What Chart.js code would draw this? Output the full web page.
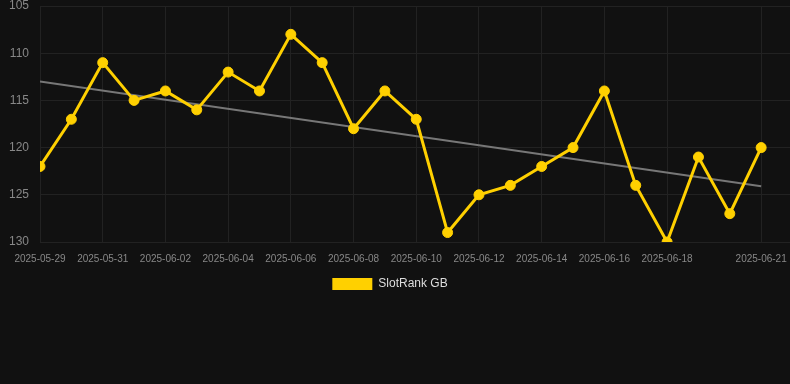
<!DOCTYPE html>
<html>
<head>
<meta charset="utf-8">
<script src="https://cdn.jsdelivr.net/npm/chart.js@4.4.0/dist/chart.umd.min.js"></script>
<style>
  html, body { margin: 0; padding: 0; background: #111111; }
  #wrap { width: 790px; height: 300px; position: relative; }
</style>
</head>
<body>
<div id="wrap"><canvas id="c"></canvas></div>
<script>
const categories = ["2025-05-29","2025-05-30","2025-05-31","2025-06-01","2025-06-02","2025-06-03","2025-06-04","2025-06-05","2025-06-06","2025-06-07","2025-06-08","2025-06-09","2025-06-10","2025-06-11","2025-06-12","2025-06-13","2025-06-14","2025-06-15","2025-06-16","2025-06-17","2025-06-18","2025-06-19","2025-06-20","2025-06-21"];
const rankValues = [122,117,111,115,114,116,112,114,108,111,118,114,117,129,125,124,122,120,114,124,130,121,127,120];
const shownTickLabels = ["2025-05-29","2025-05-31","2025-06-02","2025-06-04","2025-06-06","2025-06-08","2025-06-10","2025-06-12","2025-06-14","2025-06-16","2025-06-18","2025-06-21"];
const yTicks = [105,110,115,120,125,130];

// least-squares trend from the data
const n = rankValues.length;
const mx = (n - 1) / 2;
const my = rankValues.reduce((a, b) => a + b, 0) / n;
let sxy = 0, sxx = 0;
rankValues.forEach((v, i) => { sxy += (i - mx) * (v - my); sxx += (i - mx) * (i - mx); });
const slope = sxy / sxx;
const intercept = my - slope * mx;
const trendPoints = [{x: 0, y: intercept}, {x: n - 1, y: intercept + slope * (n - 1)}];

const seriesPoints = rankValues.map((v, i) => ({x: i, y: v}));
const labelAt = (i) => {
  const lab = categories[i];
  return lab && shownTickLabels.includes(lab) ? lab : '';
};

const legendShift = {
  id: 'legendShift',
  beforeDraw(chart) {
    if (chart.legend) { chart.legend.right = chart.width - 10; }
  }
};

new Chart(document.getElementById('c'), {
  type: 'line',
  plugins: [legendShift],
  data: {
    datasets: [
      {
        label: 'SlotRank GB',
        data: seriesPoints,
        borderColor: '#FFD000',
        backgroundColor: '#FFD000',
        borderWidth: 3,
        pointRadius: 5,
        pointHoverRadius: 5,
        pointBackgroundColor: '#FFD000',
        pointBorderColor: '#FFD000',
        pointBorderWidth: 1,
        tension: 0,
        order: 1
      },
      {
        label: 'Trend',
        data: trendPoints,
        borderColor: '#777777',
        backgroundColor: '#777777',
        borderWidth: 2,
        pointRadius: 0,
        tension: 0,
        order: 2
      }
    ]
  },
  options: {
    responsive: true,
    maintainAspectRatio: false,
    animation: false,
    layout: { autoPadding: false },
    scales: {
      x: {
        type: 'linear',
        min: 0,
        max: n - 0.08,
        afterBuildTicks: (axis) => { axis.ticks = categories.map((c, i) => ({value: i})); },
        afterFit: (axis) => { axis.paddingRight = 0; },
        ticks: {
          autoSkip: false,
          maxRotation: 0,
          color: '#888888',
          font: { family: 'Liberation Sans, Arial, sans-serif', size: 10 },
          callback: (v) => labelAt(v)
        },
        grid: {
          color: (ctx) => (ctx.tick && labelAt(ctx.tick.value) !== '') ? '#222222' : 'rgba(0,0,0,0)',
          tickColor: 'rgba(0,0,0,0)'
        },
        border: { display: false }
      },
      y: {
        reverse: true,
        min: yTicks[0],
        max: yTicks[yTicks.length - 1],
        afterBuildTicks: (axis) => { axis.ticks = yTicks.map(v => ({value: v})); },
        afterFit: (axis) => { axis.width = 40; axis.paddingTop = 6; },
        ticks: {
          color: '#888888',
          font: { family: 'Liberation Sans, Arial, sans-serif', size: 12 }
        },
        grid: { color: '#222222', tickColor: 'rgba(0,0,0,0)' },
        border: { display: false }
      }
    },
    plugins: {
      legend: {
        position: 'bottom',
        labels: {
          color: '#dddddd',
          boxWidth: 40,
          boxHeight: 12,
          font: { family: 'Liberation Sans, Arial, sans-serif', size: 12 },
          filter: (item) => { item.lineWidth = 0; return item.text === 'SlotRank GB'; }
        }
      },
      tooltip: { enabled: false }
    }
  }
});
</script>
</body>
</html>
